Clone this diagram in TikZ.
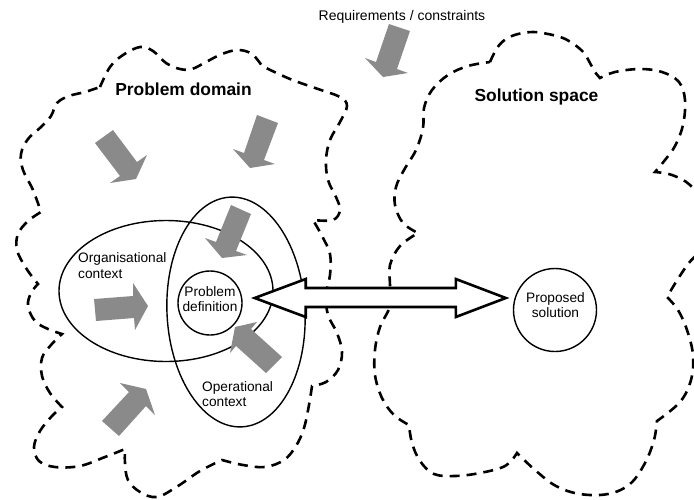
\documentclass[tikz,border=0pt]{standalone}
\usepackage{fontspec}
\setmainfont{Liberation Sans}
\usetikzlibrary{shapes.geometric,calc}
\definecolor{pushgray}{RGB}{138,138,138}
\begin{document}
\begin{tikzpicture}[x=1pt,y=-1pt,
  cloud/.style={line width=2.6pt, dash pattern=on 10pt off 7pt},
  lobe/.style={smooth, tension=0.6},
  ring/.style={draw, line width=1.4pt, inner sep=0pt, fill=none},
  push/.style={fill=pushgray, draw=none},
  bigarrow/.style={draw, fill=white, line width=2.6pt, line join=miter},
  label/.style={inner sep=0pt, font=\fontsize{13.7}{15.5}\selectfont},
  title/.style={inner sep=0pt, font=\bfseries\fontsize{17.4}{20}\selectfont}]
\useasboundingbox (0,0) rectangle (694,499);

% problem domain cloud
\draw[cloud]
  plot[lobe] coordinates {(100,87) (110,67) (123,55) (140,47) (153,51) (166,63) (180,69) (192,69) (206,62) (222,54) (238,50) (252,54) (262,66)}
  -- plot[lobe] coordinates {(262,66) (290,79) (318,89) (340,97) (347,106) (340,122) (330,140) (326,160) (328,180) (336,197) (340,210) (333,220) (313,220)}
  -- plot[lobe] coordinates {(313,220) (322,236) (330,254) (330,275) (326,295) (328,315) (337,333) (342,352) (338,370) (326,382) (312,386)}
  -- plot[lobe] coordinates {(312,386) (309,405) (304,428) (296,446) (284,460) (265,467) (243,465) (222,460)}
  -- plot[lobe] coordinates {(222,460) (200,471) (178,486) (157,497) (140,492) (128,480) (125,463) (125,449)}
  -- plot[lobe] coordinates {(125,449) (105,457) (80,466) (55,467) (39,461) (34,447) (40,431) (52,416) (62,407)}
  -- plot[lobe] coordinates {(62,407) (50,393) (42,376) (42,358) (51,345) (62,334)}
  -- plot[lobe] coordinates {(62,334) (48,329) (35,321) (28,306) (31,293) (38,284)}
  -- plot[lobe] coordinates {(38,284) (26,268) (17,250) (18,234) (28,221) (41,212)}
  -- plot[lobe] coordinates {(41,212) (33,190) (23,170) (21,154) (28,139) (41,127) (51,116) (57,103) (69,96) (85,92) (100,87)}
  -- cycle;

% solution space cloud
\draw[cloud]
  plot[lobe] coordinates {(490,62) (497,48) (506,39) (518,34) (533,32) (548,34) (563,38) (575,45) (584,53) (590,63) (595,72) (600,78)}
  -- plot[lobe] coordinates {(600,78) (615,72) (640,69) (662,72) (679,82) (685,100) (683,125) (675,146) (665,160) (655,172)}
  -- plot[lobe] coordinates {(655,172) (672,175) (690,185) (703,205) (706,230) (700,250) (688,264) (676,282) (667,297)}
  -- plot[lobe] coordinates {(667,297) (678,310) (687,330) (693,355) (691,380) (680,402) (657,421)}
  -- plot[lobe] coordinates {(657,421) (654,440) (645,463) (630,484) (608,494) (580,494) (556,486) (535,470) (517,453)}
  -- plot[lobe] coordinates {(517,453) (505,466) (480,473) (455,476) (434,474) (420,461) (412,443) (409,425)}
  -- plot[lobe] coordinates {(409,425) (394,415) (382,398) (375,375) (375,350) (380,327) (390,306) (390,285) (390,265) (400,246) (418,233)}
  -- plot[lobe] coordinates {(418,233) (403,223) (395,205) (396,187) (404,170) (416,150) (423,128) (424,108) (432,90) (448,75) (468,66) (490,62)}
  -- cycle;

% context ellipses
\node[ring, ellipse, minimum width=214pt, minimum height=141pt] (org) at (166,291) {};
\node[ring, ellipse, minimum width=138pt, minimum height=230pt, rotate=3] (op) at (236,312) {};

% grey influence arrows
\fill[push] (389,24) -- (410,31) -- (397,69) -- (408,73) -- (383,77) -- (365,58) -- (376,62) -- cycle;
\fill[push] (113,130) -- (137,162) -- (147,155) -- (136,179) -- (110,183) -- (120,176) -- (95,143) -- cycle;
\fill[push] (257,115) -- (278,123) -- (264,160) -- (275,164) -- (250,168) -- (233,149) -- (244,153) -- cycle;
\fill[push] (231,205) -- (251,214) -- (236,251) -- (247,255) -- (222,258) -- (205,238) -- (216,242) -- cycle;
\fill[push] (94,299) -- (133,296) -- (133,283) -- (148,306) -- (135,330) -- (134,318) -- (96,321) -- cycle;
\fill[push] (282,357) -- (251,329) -- (257,322) -- (235,327) -- (230,353) -- (236,346) -- (266,373) -- cycle;
\fill[push] (102,421) -- (129,392) -- (120,383) -- (146,389) -- (155,415) -- (146,406) -- (119,436) -- cycle;

% problem definition and proposed solution
\node[ring, circle, minimum size=64pt] (pdef) at (210,303) {};
\node[ring, circle, minimum size=83pt] (psol) at (555,310) {};

% two-headed link between them
\coordinate (la) at ([shift={(12,-5)}]pdef.east);
\coordinate (ra) at ([shift={(-7,-12)}]psol.west);
\draw[bigarrow] (la) -- ($(la)+(51,-19)$) -- ($(la)+(51,-10)$) -- ($(ra)+(-50,-10)$)
  -- ($(ra)+(-50,-19)$) -- (ra) -- ($(ra)+(-50,19)$) -- ($(ra)+(-50,9)$)
  -- ($(la)+(51,9)$) -- ($(la)+(51,19)$) -- cycle;

% labels
\node[title, anchor=base] (pdomain) at (183.5,95) {Problem domain};
\node[title, anchor=base] (sspace) at (536.5,101.5) {Solution space};
\node[label, anchor=base, font=\fontsize{14}{16}\selectfont] (req) at (402,20) {Requirements / constraints};
\node[label, align=left, anchor=west] (orgtext) at (78,265.7) {Organisational\\context};
\node[label, align=left, anchor=west] (optext) at (202,394.2) {Operational\\context};
\node[label, align=center] (pdeftext) at (210,299) {Problem\\definition};
\node[label, align=center] (psoltext) at (555.5,305.3) {Proposed\\solution};
\end{tikzpicture}
\end{document}
